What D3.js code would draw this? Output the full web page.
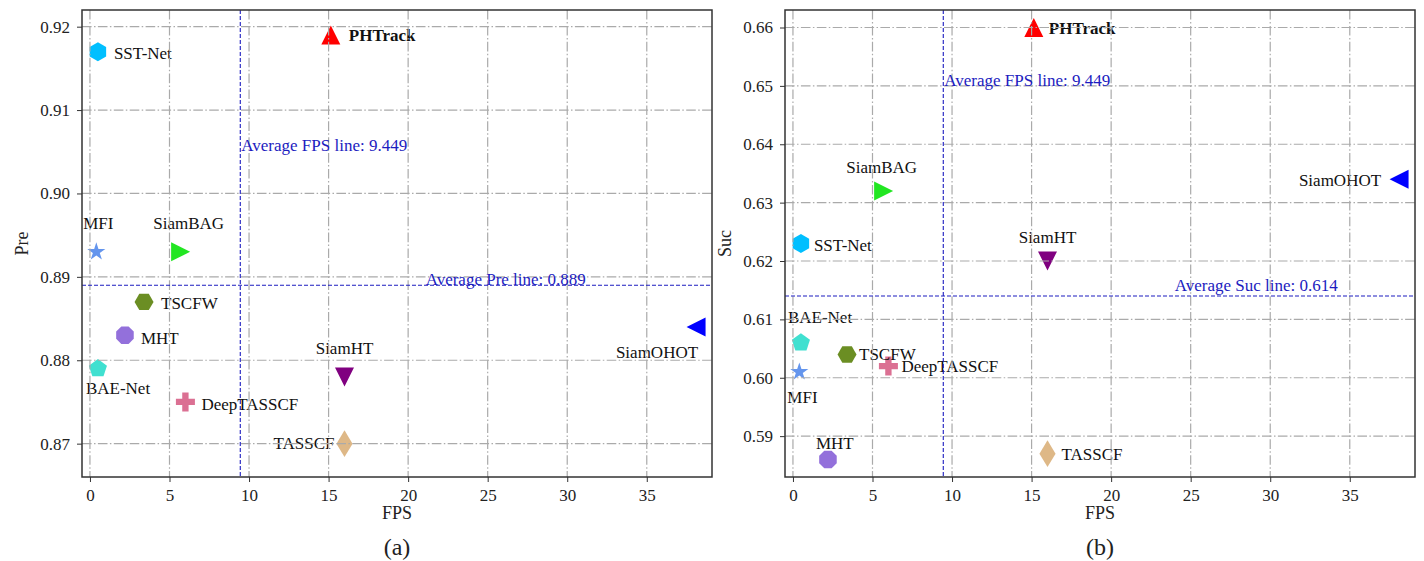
<!DOCTYPE html>
<html>
<head>
<meta charset="utf-8">
<script src="https://cdn.jsdelivr.net/npm/d3@7/dist/d3.min.js"></script>
<style>
  html, body { margin: 0; padding: 0; background: #fff; }
  svg { display: block; }
  text { font-family: "Liberation Serif", "Times New Roman", serif; }
</style>
</head>
<body>
<svg id="chart" width="1424" height="561"></svg>
<script>
// ---------------- data ----------------
const methods = ["PHTrack", "SST-Net", "MFI", "SiamBAG", "TSCFW", "MHT", "BAE-Net", "DeepTASSCF", "SiamHT", "TASSCF", "SiamOHOT"];
const fps     = [15.14, 0.5, 0.4, 5.7, 3.4, 2.2, 0.5, 6.0, 16.0, 16.0, 38.1];
const pre     = [0.919, 0.917, 0.893, 0.893, 0.887, 0.883, 0.879, 0.875, 0.878, 0.870, 0.884];
const suc     = [0.660, 0.623, 0.601, 0.632, 0.604, 0.586, 0.606, 0.602, 0.620, 0.587, 0.634];
const avgFps = 9.449;
const avgPre = 0.889;
const avgSuc = 0.614;
const xTicks = [0, 5, 10, 15, 20, 25, 30, 35];
const preTicks = [0.87, 0.88, 0.89, 0.90, 0.91, 0.92];
const sucTicks = [0.59, 0.60, 0.61, 0.62, 0.63, 0.64, 0.65, 0.66];

// ---------------- styles ----------------
const markerStyle = {
  "PHTrack":    { shape: "tri-up",    color: "#ff0000" },
  "SST-Net":    { shape: "hexagon1",  color: "#00bfff" },
  "MFI":        { shape: "star",      color: "#6495ed" },
  "SiamBAG":    { shape: "tri-right", color: "#22e622" },
  "TSCFW":      { shape: "hexagon2",  color: "#6b8e23" },
  "MHT":        { shape: "octagon",   color: "#9370db" },
  "BAE-Net":    { shape: "pentagon",  color: "#40e0d0" },
  "DeepTASSCF": { shape: "plus",      color: "#db7093" },
  "SiamHT":     { shape: "tri-down",  color: "#800080" },
  "TASSCF":     { shape: "thindiamond", color: "#deb887" },
  "SiamOHOT":   { shape: "tri-left",  color: "#0000ff" }
};
// label offsets in px [dx, dy, anchor]
const labelPosA = {
  "PHTrack": [18, 0, "start"], "SST-Net": [16, 2, "start"], "MFI": [2, -28, "middle"],
  "SiamBAG": [8, -28, "middle"], "TSCFW": [17, 2, "start"], "MHT": [16, 3, "start"],
  "BAE-Net": [-12, 20, "start"], "DeepTASSCF": [16, 3, "start"], "SiamHT": [0, -28, "middle"],
  "TASSCF": [-10, 0, "end"], "SiamOHOT": [2, 26, "end"]
};
const labelPosB = {
  "PHTrack": [15, 1, "start"], "SST-Net": [13, 2, "start"], "MFI": [-12, 26, "start"],
  "SiamBAG": [-2, -23, "middle"], "TSCFW": [12, 0, "start"], "MHT": [-12, -16, "start"],
  "BAE-Net": [-13, -25, "start"], "DeepTASSCF": [13, 0, "start"], "SiamHT": [0, -24, "middle"],
  "TASSCF": [14, 1, "start"], "SiamOHOT": [-18, 1, "end"]
};

const MS = 19; // marker size px
function markerPath(shape) {
  const r = MS / 2;
  const poly = (n, rot) => d3.range(n).map(i => {
    const a = rot + i * 2 * Math.PI / n;
    return [r * Math.sin(a), -r * Math.cos(a)];
  });
  let pts;
  switch (shape) {
    case "tri-up": pts = [[0, -r], [-r, r], [r, r]]; break;
    case "tri-down": pts = [[0, r], [-r, -r], [r, -r]]; break;
    case "tri-left": pts = [[-r, 0], [r, -r], [r, r]]; break;
    case "tri-right": pts = [[r, 0], [-r, -r], [-r, r]]; break;
    case "hexagon1": pts = poly(6, 0); break;
    case "hexagon2": pts = poly(6, Math.PI / 6); break;
    case "octagon": pts = poly(8, Math.PI / 8); break;
    case "pentagon": pts = poly(5, 0); break;
    case "star": {
      pts = [];
      for (let i = 0; i < 10; i++) {
        const rr = i % 2 === 0 ? r : r * 0.381966;
        const a = i * Math.PI / 5;
        pts.push([rr * Math.sin(a), -rr * Math.cos(a)]);
      }
      break;
    }
    case "plus": {
      const k = MS / 6;
      pts = [[-1, -3], [1, -3], [1, -1], [3, -1], [3, 1], [1, 1], [1, 3], [-1, 3], [-1, 1], [-3, 1], [-3, -1], [-1, -1]]
        .map(p => [p[0] * k, p[1] * k]);
      break;
    }
    case "thindiamond": {
      const h = MS * 0.707, w = MS * 0.424;
      pts = [[0, -h], [w, 0], [0, h], [-w, 0]];
      break;
    }
  }
  return "M" + pts.map(p => p[0].toFixed(2) + "," + p[1].toFixed(2)).join("L") + "Z";
}

const svg = d3.select("#chart");
svg.append("rect").attr("width", 1424).attr("height", 561).attr("fill", "#fff");

const TOP = 10, BOTTOM = 477;

function panel(opts) {
  const { left, right, yDomain, yTicks, yVals, yLabel, avgY, sub, labelPos, fpsLabelY, avgLabel, avgLabelX, avgLabelDy } = opts;
  const x = d3.scaleLinear().domain([-0.5, 39.1]).range([left, right]);
  const y = d3.scaleLinear().domain(yDomain).range([BOTTOM, TOP]);
  const g = svg.append("g");

  // markers
  const data = methods.map((m, i) => ({ m, x: fps[i], y: yVals[i] }));
  g.selectAll("path.mk").data(data).join("path")
    .attr("class", "mk")
    .attr("d", d => markerPath(markerStyle[d.m].shape))
    .attr("transform", d => `translate(${x(d.x)},${y(d.y)})`)
    .attr("fill", d => markerStyle[d.m].color);

  // labels
  g.selectAll("text.lb").data(data).join("text")
    .attr("class", "lb")
    .attr("x", d => x(d.x) + labelPos[d.m][0])
    .attr("y", d => y(d.y) + labelPos[d.m][1])
    .attr("text-anchor", d => labelPos[d.m][2])
    .attr("dominant-baseline", "central")
    .attr("font-size", 17)
    .attr("font-weight", d => d.m === "PHTrack" ? "bold" : "normal")
    .attr("fill", "#111")
    .text(d => d.m);

  // grid (drawn over markers)
  const grid = g.append("g").attr("stroke", "#aaaaaa").attr("stroke-width", 1.2)
    .attr("stroke-dasharray", "9.6,2.4,1.5,2.4").attr("fill", "none");
  xTicks.forEach(t => grid.append("line").attr("x1", x(t)).attr("x2", x(t)).attr("y1", TOP).attr("y2", BOTTOM));
  yTicks.forEach(t => grid.append("line").attr("x1", left).attr("x2", right).attr("y1", y(t)).attr("y2", y(t)));

  // average lines
  const avgColor = "#1c1cc0";
  g.append("line").attr("x1", x(avgFps)).attr("x2", x(avgFps)).attr("y1", TOP).attr("y2", BOTTOM)
    .attr("stroke", avgColor).attr("stroke-width", 1.1).attr("stroke-dasharray", "4,2");
  g.append("line").attr("x1", left).attr("x2", right).attr("y1", y(avgY)).attr("y2", y(avgY))
    .attr("stroke", avgColor).attr("stroke-width", 1.1).attr("stroke-dasharray", "4,2");
  g.append("text").attr("x", x(avgFps) + 1).attr("y", y(fpsLabelY))
    .attr("dominant-baseline", "central").attr("font-size", 17).attr("fill", avgColor)
    .text("Average FPS line: " + avgFps.toFixed(3));
  g.append("text").attr("x", x(avgLabelX)).attr("y", y(avgY) + avgLabelDy)
    .attr("dominant-baseline", "central").attr("font-size", 17).attr("fill", avgColor)
    .text(avgLabel + avgY.toFixed(3));

  // frame
  g.append("rect").attr("x", left).attr("y", TOP).attr("width", right - left).attr("height", BOTTOM - TOP)
    .attr("fill", "none").attr("stroke", "#333").attr("stroke-width", 1.5);

  // axes
  const xa = g.append("g").attr("transform", `translate(0,${BOTTOM})`)
    .call(d3.axisBottom(x).tickValues(xTicks).tickSize(5).tickPadding(7).tickFormat(d3.format("d")));
  const ya = g.append("g").attr("transform", `translate(${left},0)`)
    .call(d3.axisLeft(y).tickValues(yTicks).tickSize(5).tickPadding(7).tickFormat(d3.format(".2f")));
  [xa, ya].forEach(a => {
    a.select(".domain").remove();
    a.selectAll(".tick line").attr("stroke", "#333");
    a.selectAll(".tick text").attr("font-size", 17).attr("fill", "#222")
      .attr("font-family", '"Liberation Serif", "Times New Roman", serif');
  });

  const cx = (left + right) / 2;
  g.append("text").attr("x", cx).attr("y", 513).attr("text-anchor", "middle").attr("dominant-baseline", "central")
    .attr("font-size", 18).attr("fill", "#222").text("FPS");
  g.append("text").attr("x", cx).attr("y", 547).attr("text-anchor", "middle").attr("dominant-baseline", "central")
    .attr("font-size", 24).attr("fill", "#222").text(sub);
  g.append("text").attr("transform", `translate(${left - 60},${(TOP + BOTTOM) / 2}) rotate(-90)`)
    .attr("text-anchor", "middle").attr("dominant-baseline", "central")
    .attr("font-size", 18).attr("fill", "#222").text(yLabel);
}

panel({ left: 82, right: 712, yDomain: [0.866, 0.922], yTicks: preTicks, yVals: pre, yLabel: "Pre",
        avgY: avgPre, sub: "(a)", labelPos: labelPosA, fpsLabelY: 0.9057,
        avgLabel: "Average Pre line: ", avgLabelX: 21.1, avgLabelDy: -6 });
panel({ left: 785, right: 1415, yDomain: [0.583, 0.663], yTicks: sucTicks, yVals: suc, yLabel: "Suc",
        avgY: avgSuc, sub: "(b)", labelPos: labelPosB, fpsLabelY: 0.651,
        avgLabel: "Average Suc line: ", avgLabelX: 24.0, avgLabelDy: -11 });
</script>
</body>
</html>
